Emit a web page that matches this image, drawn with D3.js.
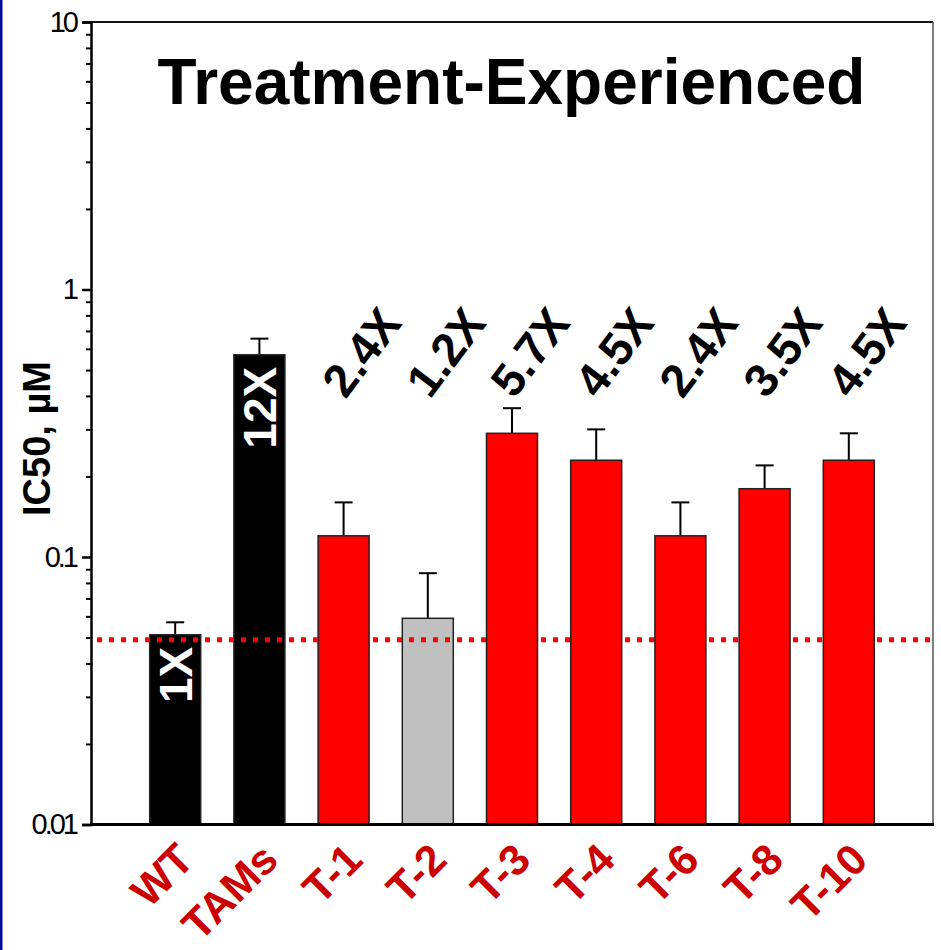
<!DOCTYPE html>
<html>
<head>
<meta charset="utf-8">
<script src="https://cdn.jsdelivr.net/npm/d3@7"></script>
<style>
  html, body { margin: 0; padding: 0; background: #ffffff; }
  svg { display: block; font-family: "Liberation Sans", Arial, Helvetica, sans-serif; }
</style>
</head>
<body>
<svg id="chart" width="941" height="950"></svg>
<script>
// Virus panel, IC50 (µM) means with upper error limits and fold change vs WT
const categories = ["WT", "TAMs", "T-1", "T-2", "T-3", "T-4", "T-6", "T-8", "T-10"];
const ic50 = [0.0512, 0.57, 0.12, 0.059, 0.29, 0.23, 0.12, 0.18, 0.23];
const ic50Upper = [0.057, 0.655, 0.16, 0.087, 0.36, 0.30, 0.16, 0.22, 0.29];
const foldLabels = ["1X", "12X", "2.4X", "1.2X", "5.7X", "4.5X", "2.4X", "3.5X", "4.5X"];
const groups = ["control", "control", "shifted", "near", "shifted", "shifted", "shifted", "shifted", "shifted"];
const wtReference = 0.049;
const majorTicks = [0.01, 0.1, 1, 10];
const majorTickLabels = ["0.01", "0.1", "1", "10"];

const svg = d3.select("#chart");
const plotLeft = 91, plotRight = 933, plotTop = 22, plotBottom = 824.5;

const x = d3.scalePoint().domain(categories).range([plotLeft, plotRight]).padding(1);
const y = d3.scaleLog().domain([0.01, 10]).range([plotBottom, plotTop]);
const fill = d3.scaleOrdinal().domain(["control", "near", "shifted"]).range(["#000000", "#c0c0c0", "#ff0000"]);
const barW = 51;

// window edge strip
svg.append("rect").attr("x", 0).attr("y", 0).attr("width", 2.5).attr("height", 950).attr("fill", "#0a0a9c");

// frame: top and right edges
svg.append("line").attr("x1", plotLeft).attr("x2", plotRight).attr("y1", plotTop).attr("y2", plotTop)
  .attr("stroke", "#111").attr("stroke-width", 2);
svg.append("line").attr("x1", plotRight).attr("x2", plotRight).attr("y1", plotTop).attr("y2", plotBottom)
  .attr("stroke", "#555").attr("stroke-width", 1.5);

// y axis: minor ticks
const minor = [];
[0.01, 0.1, 1].forEach(d => { for (let k = 2; k <= 9; k++) minor.push(+(d * k).toPrecision(3)); });
svg.append("g").attr("transform", `translate(${plotLeft},0)`)
  .call(d3.axisLeft(y).tickValues(minor).tickSize(5).tickFormat(""))
  .call(g => g.select(".domain").remove())
  .call(g => g.selectAll("line").attr("stroke", "#000").attr("stroke-width", 2));

// y axis: major ticks and labels
svg.append("g").attr("transform", `translate(${plotLeft},0)`)
  .call(d3.axisLeft(y).tickValues(majorTicks).tickSize(9).tickPadding(6)
    .tickFormat((d, i) => majorTickLabels[i]))
  .call(g => g.select(".domain").attr("stroke", "#000").attr("stroke-width", 2.5))
  .call(g => g.selectAll("line").attr("stroke", "#000").attr("stroke-width", 2.5))
  .call(g => g.selectAll("text").attr("font-size", 29).attr("fill", "#000")
    .attr("letter-spacing", "-3px").attr("font-family", "Liberation Sans, Arial, sans-serif"));

// error bars (upper only)
const eb = svg.append("g");
categories.forEach((c, i) => {
  eb.append("line").attr("x1", x(c)).attr("x2", x(c)).attr("y1", y(ic50[i])).attr("y2", y(ic50Upper[i]))
    .attr("stroke", "#000").attr("stroke-width", 2);
  eb.append("line").attr("x1", x(c) - 9).attr("x2", x(c) + 9).attr("y1", y(ic50Upper[i])).attr("y2", y(ic50Upper[i]))
    .attr("stroke", "#000").attr("stroke-width", 2);
});

// bars
svg.append("g").selectAll("rect").data(categories).join("rect")
  .attr("x", d => x(d) - barW / 2)
  .attr("width", barW)
  .attr("y", (d, i) => y(ic50[i]))
  .attr("height", (d, i) => plotBottom - y(ic50[i]))
  .attr("fill", (d, i) => fill(groups[i]))
  .attr("stroke", "#222").attr("stroke-width", 1.5);

// x axis baseline
svg.append("line").attr("x1", plotLeft - 1).attr("x2", plotRight + 1).attr("y1", plotBottom).attr("y2", plotBottom)
  .attr("stroke", "#000").attr("stroke-width", 3);

// WT reference level
svg.append("line").attr("x1", plotLeft + 6).attr("x2", plotRight - 2)
  .attr("y1", y(wtReference)).attr("y2", y(wtReference))
  .attr("stroke", "#ff0000").attr("stroke-width", 5).attr("stroke-dasharray", "5,7");

// fold-change labels
categories.forEach((c, i) => {
  if (groups[i] === "control") {
    svg.append("text")
      .attr("transform", `translate(${x(c) + 17},${y(ic50[i]) + 12}) rotate(-90)`)
      .attr("text-anchor", "end").attr("font-size", 46).attr("font-weight", "bold")
      .attr("fill", "#ffffff").text(foldLabels[i]);
  } else {
    svg.append("text")
      .attr("transform", `translate(${x(c) + 2},400) rotate(-53)`)
      .attr("text-anchor", "start").attr("font-size", 46.5).attr("font-weight", "bold")
      .attr("fill", "#000").text(foldLabels[i]);
  }
});

// category labels
svg.append("g").selectAll("text").data(categories).join("text")
  .attr("transform", d => `translate(${x(d) + 21},862) rotate(-45)`)
  .attr("text-anchor", "end").attr("font-size", 43).attr("font-weight", "bold")
  .attr("fill", "#cc0000").text(d => d);

// y axis title
svg.append("text").attr("transform", "translate(50,516) rotate(-90)")
  .attr("text-anchor", "start").attr("font-size", 38).attr("font-weight", "bold")
  .attr("fill", "#000").text("IC50, µM");

// panel title
svg.append("text").attr("x", 511.5).attr("y", 104).attr("text-anchor", "middle")
  .attr("font-size", 64).attr("font-weight", "bold").attr("fill", "#000")
  .text("Treatment-Experienced");
</script>
</body>
</html>
